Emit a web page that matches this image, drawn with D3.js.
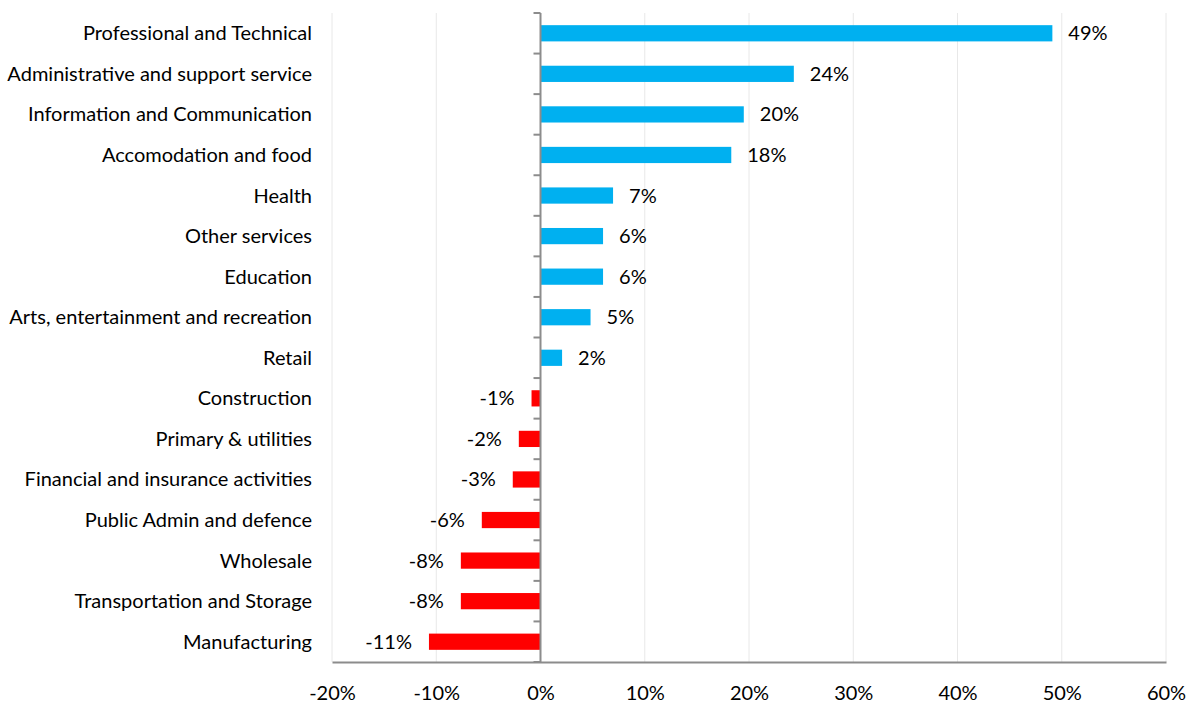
<!DOCTYPE html>
<html>
<head>
<meta charset="utf-8">
<script src="https://cdn.jsdelivr.net/npm/d3@7"></script>
<style>
  body { margin: 0; background: #fff; }
  text { font-family: Lato, "Open Sans", sans-serif; fill: #000; }
</style>
</head>
<body>
<script>
// sectors, top to bottom
const categories = [
    "Professional and Technical",
    "Administrative and support service",
    "Information and Communication",
    "Accomodation and food",
    "Health",
    "Other services",
    "Education",
    "Arts, entertainment and recreation",
    "Retail",
    "Construction",
    "Primary & utilities",
    "Financial and insurance activities",
    "Public Admin and defence",
    "Wholesale",
    "Transportation and Storage",
    "Manufacturing"
];
// change, in %
const values = [49.1, 24.3, 19.5, 18.3, 6.96, 6.0, 6.0, 4.8, 2.07,
                -0.86, -2.08, -2.66, -5.63, -7.64, -7.64, -10.7];
const labels = ["49%", "24%", "20%", "18%", "7%", "6%", "6%", "5%", "2%",
                "-1%", "-2%", "-3%", "-6%", "-8%", "-8%", "-11%"];
const xTicks = [-20, -10, 0, 10, 20, 30, 40, 50, 60];

const width = 1189;
const height = 703;
const fontSize = 20;

const data = categories.map((c, i) => ({ name: c, value: values[i], label: labels[i] }));

var svg = d3.select("body").append("svg")
    .attr("width", width)
    .attr("height", height);

var xscale = d3.scaleLinear()
    .domain([-20, 60])
    .range([332, 1166]);

var yscale = d3.scaleBand()
    .domain(categories)
    .range([13, 662])
    .paddingInner(0.6)
    .paddingOuter(0.3);

const step = yscale.step();
const gap = (step - yscale.bandwidth()) / 2;

// gridlines
svg.append("g")
    .selectAll("line")
    .data(xTicks.filter(t => t != 0))
    .enter().append("line")
    .attr("x1", d => xscale(d))
    .attr("x2", d => xscale(d))
    .attr("y1", 13)
    .attr("y2", 662)
    .attr("stroke", "#e8e8e8")
    .attr("stroke-width", 1);

// bars
svg.append("g")
    .selectAll("rect")
    .data(data)
    .enter().append("rect")
    .attr("x", d => xscale(Math.min(0, d.value)))
    .attr("y", d => yscale(d.name))
    .attr("width", d => Math.abs(xscale(d.value) - xscale(0)))
    .attr("height", yscale.bandwidth())
    .attr("fill", d => d.value >= 0 ? "#00b0f0" : "#ff0000");

// bottom axis
var xaxis = svg.append("g")
    .attr("class", "x_axis")
    .attr("transform", "translate(0,662)")
    .call(d3.axisBottom(xscale).tickValues(xTicks).tickSize(0).tickPadding(24)
        .tickFormat(d => d + "%"));
xaxis.select(".domain").attr("stroke", "#8c8c8c").attr("stroke-width", 2);
xaxis.selectAll("text").attr("font-size", fontSize).attr("font-family", "Lato, 'Open Sans', sans-serif").attr("fill", "#000");

// vertical zero axis with ticks at category boundaries
const bounds = categories.map(c => yscale(c) - gap).concat([yscale(categories[categories.length - 1]) + yscale.bandwidth() + gap]);
var zaxis = svg.append("g");
zaxis.append("line")
    .attr("x1", xscale(0)).attr("x2", xscale(0))
    .attr("y1", 13).attr("y2", 662)
    .attr("stroke", "#8c8c8c").attr("stroke-width", 2);
zaxis.selectAll(".tk")
    .data(bounds)
    .enter().append("line")
    .attr("class", "tk")
    .attr("x1", xscale(0) - 7).attr("x2", xscale(0))
    .attr("y1", d => d).attr("y2", d => d)
    .attr("stroke", "#8c8c8c").attr("stroke-width", 2);

// category labels
svg.append("g")
    .selectAll("text")
    .data(data)
    .enter().append("text")
    .attr("x", 312)
    .attr("y", d => yscale(d.name) + yscale.bandwidth() / 2)
    .attr("dy", "0.35em")
    .attr("text-anchor", "end")
    .attr("font-size", fontSize)
    .text(d => d.name);

// value labels
svg.append("g")
    .selectAll("text")
    .data(data)
    .enter().append("text")
    .attr("x", d => d.value >= 0 ? xscale(d.value) + 16 : xscale(d.value) - 17)
    .attr("y", d => yscale(d.name) + yscale.bandwidth() / 2)
    .attr("dy", "0.35em")
    .attr("text-anchor", d => d.value >= 0 ? "start" : "end")
    .attr("font-size", fontSize)
    .text(d => d.label);
</script>
</body>
</html>
